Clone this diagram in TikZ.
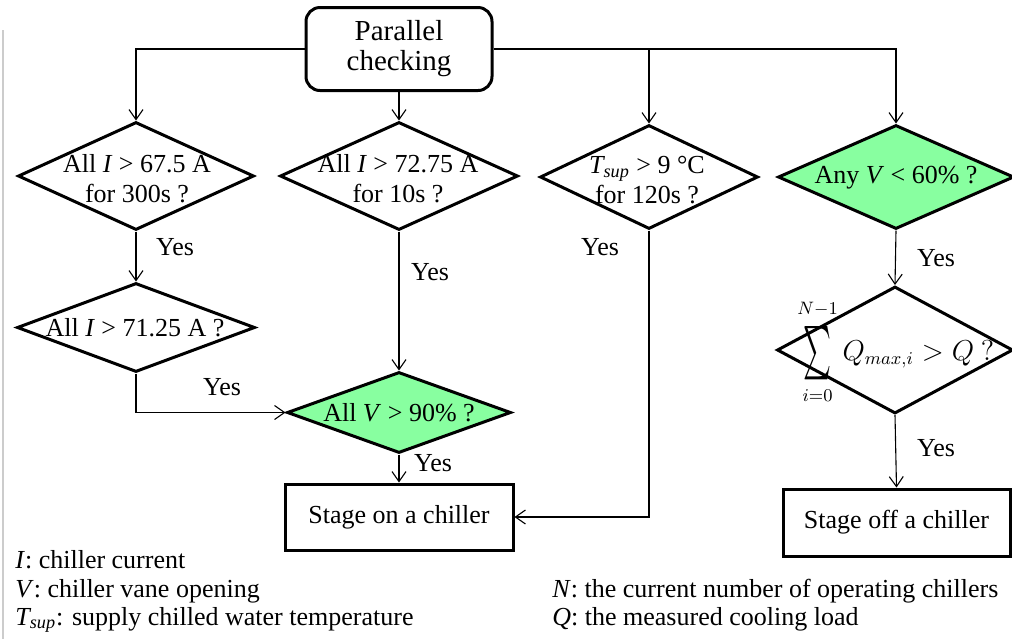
\documentclass[tikz,border=0pt]{standalone}
\usepackage{amsmath}
\usepackage{fontspec}
\setmainfont{Liberation Serif}
\usetikzlibrary{shapes.geometric,arrows.meta}
\definecolor{chkgreen}{RGB}{136,255,160}

\begin{document}
\begin{tikzpicture}[x=0.5pt,y=-0.5pt,
    font=\fontsize{13}{15}\selectfont,
    dec/.style={diamond,draw,line width=1.5pt,inner sep=0pt},
    act/.style={rectangle,draw,line width=1.5pt,inner sep=0pt},
    txt/.style={align=center,inner sep=0pt},
    arr/.style={-{Straight Barb[length=5pt,width=7pt]},line width=0.55pt}]
    \useasboundingbox (0,0) rectangle (1012,639);
    \draw[black!20,line width=0.6pt] (3,30) -- (3,639);

    \node[act,rounded corners=7pt,minimum width=93pt,minimum height=41.5pt,align=center,font=\fontsize{14.5}{15}\selectfont] (start) at (399,49) {Parallel\\checking};

    \node[dec,minimum width=118pt,minimum height=54pt] (d1) at (136,176) {};
    \node[dec,minimum width=119pt,minimum height=54pt] (d2) at (399,176) {};
    \node[dec,minimum width=109pt,minimum height=52pt] (d3) at (649,177) {};
    \node[dec,fill=chkgreen,minimum width=118pt,minimum height=52pt] (d4) at (896,177) {};
    \node[dec,minimum width=119pt,minimum height=44.5pt] (d5) at (136,327.5) {};
    \node[dec,fill=chkgreen,minimum width=112pt,minimum height=40.5pt] (d6) at (399,412.5) {};
    \node[dec,minimum width=118pt,minimum height=63.5pt] (d7) at (895,350) {};

    \node[txt] (t1) at (137,179) {All \textit{I} > 67.5 A\\for 300s ?};
    \node[txt] (t2) at (398,179) {All \textit{I} > 72.75 A\\for 10s ?};
    \node[txt] (t3) at (647,180) {\textit{T\textsubscript{sup}} > 9 °C\\for 120s ?};
    \node[txt] (t4) at (896,178) {Any \textit{V} < 60\% ?};
    \node[txt] (t5) at (135,328) {All \textit{I} > 71.25 A ?};
    \node[txt] (t6) at (399,413) {All \textit{V} > 90\% ?};
    \node[txt,anchor=west,font=\fontsize{13.5}{16}\selectfont] (t7) at (797,352)
      {$\displaystyle\mathop{\vcenter{\hbox{\resizebox{14pt}{20pt}{$\textstyle\sum$}}}}\limits_{\raisebox{-2pt}{$\scriptstyle i=0$}}^{\raisebox{3pt}{$\scriptstyle N-1$}} Q_{max,i} > Q\ ?$};

    \node[act,minimum width=114pt,minimum height=33pt] (on) at (399,517) {Stage on a chiller};
    \node[act,minimum width=113.5pt,minimum height=33.5pt] (off) at (896.5,522.5) {Stage off a chiller};

    \draw[arr] (start.west) -| (d1.north);
    \draw[arr] (start.east) -| (d4.north);
    \draw[arr] (start.east -| d3.north) -- (d3.north);
    \draw[arr] (start.south) -- (d2.north);
    \draw[arr] (d1.south) -- (d5.north);
    \draw[arr] (d5.south) |- (d6.west);
    \draw[arr] (d2.south) -- (d6.north);
    \draw[arr] (d6.south) -- (on.north);
    \draw[arr] (d3.south) |- (on.east);
    \draw[arr] (d4.south) -- (d7.north);
    \draw[arr] (d7.south) -- (off.north);

    \node (y1) at (175,247) {Yes};
    \node (y2) at (430,272) {Yes};
    \node (y3) at (600,247) {Yes};
    \node (y4) at (936,258) {Yes};
    \node (y5) at (222,387) {Yes};
    \node (y6) at (433,463) {Yes};
    \node (y7) at (936,448) {Yes};

    \node[anchor=base west,inner sep=0pt] (l1) at (15,568) {\textit{I}: chiller current};
    \node[anchor=base west,inner sep=0pt] (l2) at (15,597) {\textit{V}: chiller vane opening};
    \node[anchor=base west,inner sep=0pt] (l3) at (15,625) {\textit{T\textsubscript{sup}}: supply chilled water temperature};
    \node[anchor=base west,inner sep=0pt] (l4) at (552,597) {\textit{N}: the current number of operating chillers};
    \node[anchor=base west,inner sep=0pt] (l5) at (552,625) {\textit{Q}: the measured cooling load};
\end{tikzpicture}
\end{document}
